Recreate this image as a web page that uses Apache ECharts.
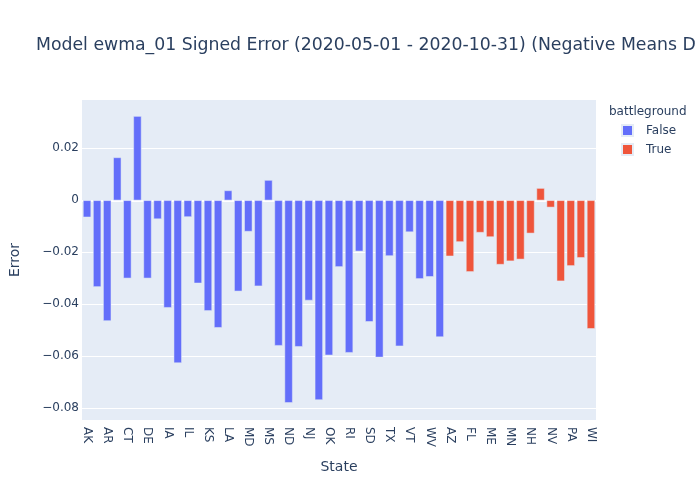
<!DOCTYPE html>
<html>
<head>
<meta charset="utf-8">
<script src="https://cdn.jsdelivr.net/npm/echarts@6/dist/echarts.min.js"></script>
<style>
  html, body { margin: 0; padding: 0; background: #fff; }
  #chart { width: 700px; height: 500px; }
</style>
</head>
<body>
<div id="chart"></div>
<script>
// non-battleground states (battleground = False)
var falseStates = ['AK','AL','AR','CA','CT','DC','DE','HI','IA','ID','IL','IN','KS','KY','LA','MA','MD','MO',
  'MS','MT','ND','NE','NJ','NY','OK','OR','RI','SC','SD','TN','TX','UT','VT','WA','WV','WY'];
var falseErrors = [-0.0065,-0.0333,-0.0464,0.0165,-0.0300,0.0324,-0.0300,-0.0072,-0.0413,-0.0626,-0.0064,-0.0319,
  -0.0425,-0.0490,0.0038,-0.0350,-0.0120,-0.0330,0.0078,-0.0559,-0.0779,-0.0563,-0.0385,-0.0768,-0.0596,-0.0256,
  -0.0586,-0.0196,-0.0467,-0.0604,-0.0214,-0.0561,-0.0122,-0.0302,-0.0294,-0.0526];

// battleground states (battleground = True)
var trueStates = ['AZ','CO','FL','GA','ME','MI','MN','NC','NH','NM','NV','OH','PA','VA','WI'];
var trueErrors = [-0.0215,-0.0160,-0.0275,-0.0124,-0.0141,-0.0247,-0.0234,-0.0227,-0.0127,0.0047,-0.0027,
  -0.0311,-0.0252,-0.0221,-0.0494];

var yMin = -0.0845;
var yMax = 0.0386;

var categories = falseStates.concat(trueStates);
var falseData = categories.map(function (s) {
  var i = falseStates.indexOf(s);
  return i < 0 ? null : falseErrors[i];
});
var trueData = categories.map(function (s) {
  var i = trueStates.indexOf(s);
  return i < 0 ? null : trueErrors[i];
});

var textColor = '#2a3f5f';
var font = '"DejaVu Sans", Verdana, sans-serif';

var chart = echarts.init(document.getElementById('chart'));
var option = {
  animation: false,
  textStyle: { fontFamily: font, color: textColor },
  title: {
    text: 'Model ewma_01 Signed Error (2020-05-01 - 2020-10-31) (Negative Means D',
    left: 31,
    top: 32,
    textStyle: { fontFamily: font, fontSize: 17.3, fontWeight: 'normal', color: textColor }
  },
  graphic: [{
    type: 'text',
    left: 609,
    top: 106,
    style: { text: 'battleground', fontFamily: font, fontSize: 12, fill: textColor }
  }],
  legend: {
    orient: 'vertical',
    left: 616,
    top: 119,
    icon: 'rect',
    itemWidth: 11,
    itemHeight: 11,
    itemGap: 6,
    textStyle: { fontFamily: font, fontSize: 12, color: textColor, padding: [0, 0, 0, 8] },
    data: ['False', 'True']
  },
  grid: {
    left: 80, right: 104, top: 100, bottom: 80,
    show: true, backgroundColor: '#E5ECF6', borderWidth: 0,
    containLabel: false
  },
  xAxis: [{
    type: 'category',
    data: categories,
    name: 'State',
    nameLocation: 'middle',
    nameGap: 40,
    nameTextStyle: { fontFamily: font, fontSize: 14, color: textColor },
    axisLine: { show: false, onZero: false },
    axisTick: { show: false },
    splitLine: { show: false },
    axisLabel: { interval: 1, rotate: -90, margin: 7, fontSize: 12, color: textColor, fontFamily: font }
  }, {
    // zero line
    type: 'category',
    data: categories,
    position: 'bottom',
    axisLine: { show: true, onZero: true, lineStyle: { color: '#ffffff', width: 2 } },
    axisTick: { show: false },
    axisLabel: { show: false },
    splitLine: { show: false }
  }],
  yAxis: {
    type: 'value',
    min: yMin,
    max: yMax,
    splitNumber: 5,
    name: 'Error',
    nameLocation: 'middle',
    nameGap: 60,
    nameTextStyle: { fontFamily: font, fontSize: 14, color: textColor },
    axisLine: { show: false },
    axisTick: { show: false },
    splitLine: { show: true, showMinLine: false, showMaxLine: false, lineStyle: { color: '#ffffff', width: 1 } },
    axisLabel: {
      showMinLabel: false,
      showMaxLabel: false,
      margin: 3,
      fontSize: 12,
      color: textColor,
      fontFamily: font,
      formatter: function (v) {
        if (Math.abs(v) < 1e-9) return '0';
        return (v < 0 ? '\u2212' : '') + Math.abs(v).toFixed(2);
      }
    }
  },
  series: [{
    name: 'False',
    type: 'bar',
    data: falseData,
    barCategoryGap: '20%',
    barGap: '-100%',
    itemStyle: { color: '#636efa', borderColor: '#E5ECF6', borderWidth: 0.5 }
  }, {
    name: 'True',
    type: 'bar',
    data: trueData,
    barCategoryGap: '20%',
    barGap: '-100%',
    itemStyle: { color: '#EF553B', borderColor: '#E5ECF6', borderWidth: 0.5 }
  }]
};
chart.setOption(option);
</script>
</body>
</html>
